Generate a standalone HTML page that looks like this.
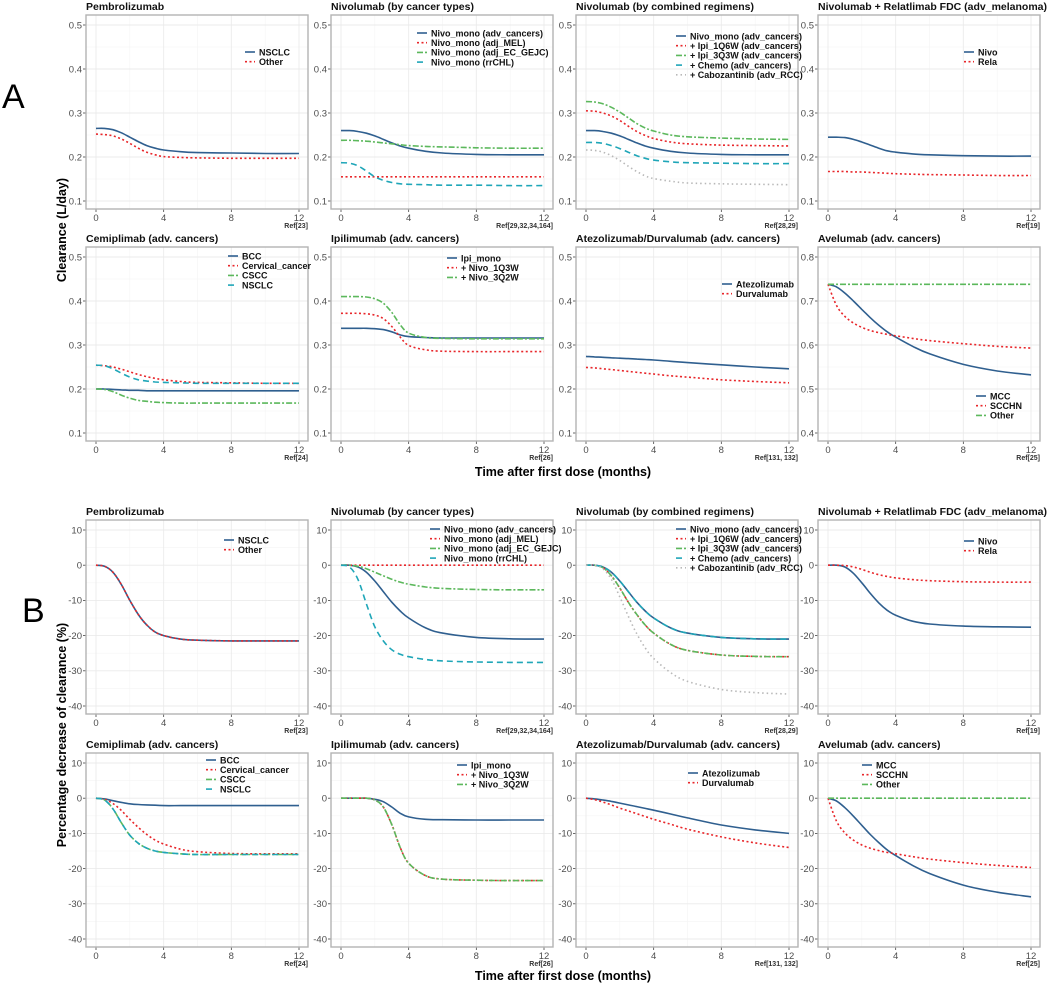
<!DOCTYPE html>
<html><head><meta charset="utf-8"><style>
html,body{margin:0;padding:0;background:#fff;}
svg{display:block;font-family:"Liberation Sans",Arial,sans-serif;}
</style></head><body>
<svg id="fig" width="1050" height="984" viewBox="0 0 1050 984">
<text x="2" y="108" font-size="34" fill="#000">A</text>
<text x="22" y="622" font-size="34" fill="#000">B</text>
<text transform="translate(66,230) rotate(-90)" text-anchor="middle" font-size="12.5" font-weight="bold">Clearance (L/day)</text>
<text transform="translate(66,735) rotate(-90)" text-anchor="middle" font-size="12.5" font-weight="bold">Percentage decrease of clearance (%)</text>
<text x="563" y="476" text-anchor="middle" font-size="12.5" font-weight="bold">Time after first dose (months)</text>
<text x="563" y="980" text-anchor="middle" font-size="12.5" font-weight="bold">Time after first dose (months)</text>
</svg>
<script>
const months=[0,0.5,1,1.5,2,2.5,3,3.5,4,5,6,8,10,12];
const xTicks=[0,4,8,12];
const yTicksA=[0.1,0.2,0.3,0.4,0.5];
const yTicksA8=[0.4,0.5,0.6,0.7,0.8];
const yTicksB=[-40,-30,-20,-10,0,10];

// Panel A series
const a1Nsclc=[0.265,0.265,0.262,0.255,0.245,0.235,0.226,0.220,0.216,0.212,0.210,0.209,0.208,0.208];
const a1Other=[0.252,0.251,0.248,0.241,0.231,0.220,0.211,0.205,0.201,0.199,0.198,0.197,0.197,0.197];
const a2Adv=[0.260,0.260,0.258,0.254,0.248,0.240,0.232,0.225,0.220,0.213,0.209,0.206,0.205,0.205];
const a2Mel=[0.155,0.155,0.155,0.155,0.155,0.155,0.155,0.155,0.155,0.155,0.155,0.155,0.155,0.155];
const a2Ec=[0.238,0.238,0.237,0.236,0.234,0.232,0.230,0.228,0.226,0.224,0.223,0.221,0.220,0.220];
const a2Chl=[0.187,0.186,0.180,0.168,0.155,0.147,0.142,0.139,0.138,0.137,0.136,0.136,0.135,0.135];
const a3Mono=[0.260,0.260,0.258,0.254,0.248,0.240,0.232,0.225,0.220,0.213,0.209,0.206,0.205,0.205];
const a3Ipi1=[0.305,0.304,0.300,0.293,0.283,0.270,0.258,0.249,0.242,0.234,0.230,0.227,0.226,0.225];
const a3Ipi3=[0.326,0.325,0.321,0.313,0.302,0.289,0.276,0.266,0.259,0.250,0.246,0.243,0.241,0.240];
const a3Chemo=[0.233,0.233,0.231,0.226,0.219,0.211,0.203,0.197,0.193,0.189,0.187,0.186,0.185,0.185];
const a3Cabo=[0.216,0.215,0.211,0.203,0.192,0.179,0.167,0.157,0.151,0.145,0.141,0.139,0.138,0.137];
const a4Nivo=[0.245,0.245,0.244,0.240,0.234,0.227,0.220,0.214,0.211,0.207,0.205,0.203,0.202,0.202];
const a4Rela=[0.167,0.167,0.167,0.166,0.166,0.165,0.164,0.163,0.162,0.161,0.160,0.159,0.158,0.158];
const a5Bcc=[0.200,0.200,0.199,0.198,0.197,0.197,0.196,0.196,0.196,0.196,0.196,0.196,0.196,0.196];
const a5Cerv=[0.254,0.253,0.250,0.245,0.239,0.233,0.228,0.224,0.221,0.217,0.215,0.214,0.213,0.213];
const a5Cscc=[0.200,0.199,0.194,0.186,0.179,0.174,0.172,0.170,0.169,0.168,0.168,0.168,0.168,0.168];
const a5Nsclc=[0.254,0.253,0.246,0.236,0.227,0.221,0.218,0.216,0.215,0.214,0.213,0.213,0.213,0.213];
const a6Ipi=[0.338,0.338,0.338,0.338,0.337,0.335,0.330,0.323,0.319,0.317,0.316,0.316,0.316,0.316];
const a6N1=[0.372,0.372,0.372,0.371,0.368,0.360,0.342,0.318,0.299,0.289,0.286,0.285,0.285,0.285];
const a6N3=[0.410,0.410,0.410,0.409,0.405,0.395,0.374,0.346,0.327,0.317,0.315,0.314,0.314,0.314];
const a7Atezo=[0.274,0.273,0.272,0.271,0.270,0.269,0.268,0.267,0.266,0.263,0.260,0.255,0.250,0.246];
const a7Durva=[0.249,0.248,0.246,0.244,0.242,0.240,0.238,0.236,0.234,0.230,0.227,0.221,0.217,0.214];
const a8Mcc=[0.738,0.732,0.718,0.700,0.681,0.662,0.645,0.630,0.618,0.597,0.580,0.556,0.541,0.532];
const a8Scchn=[0.738,0.690,0.665,0.650,0.640,0.633,0.628,0.624,0.621,0.615,0.610,0.603,0.597,0.593];
const a8Other=[0.738,0.738,0.738,0.738,0.738,0.738,0.738,0.738,0.738,0.738,0.738,0.738,0.738,0.738];

// Panel B series
const b1Nsclc=[0,-0.3,-2,-5.5,-10,-14,-17,-19,-20,-21,-21.3,-21.5,-21.5,-21.5];
const b1Other=[0,-0.3,-2,-5.5,-10,-14,-17,-19,-20,-21,-21.3,-21.5,-21.5,-21.5];
const b2Adv=[0,0,-0.5,-2,-4.5,-7.5,-10.5,-13,-15,-17.8,-19.3,-20.5,-20.9,-21];
const b2Mel=[0,0,0,0,0,0,0,0,0,0,0,0,0,0];
const b2Ec=[0,0,-0.3,-1,-2,-3,-4,-4.8,-5.4,-6.2,-6.6,-6.9,-7,-7];
const b2Chl=[0,-0.5,-4,-11,-17.5,-21.5,-24,-25.3,-26,-26.8,-27.2,-27.5,-27.6,-27.6];
const b3Mono=[0,0,-0.5,-2,-4.5,-7.5,-10.5,-13,-15,-17.8,-19.3,-20.5,-20.9,-21];
const b3Ipi1=[0,0,-0.7,-3,-6.5,-10.5,-14,-17,-19.3,-22.5,-24.2,-25.5,-25.9,-26];
const b3Ipi3=[0,0,-0.7,-3,-6.5,-10.5,-14,-17,-19.3,-22.5,-24.2,-25.5,-25.9,-26];
const b3Chemo=[0,0,-0.5,-2,-4.5,-7.5,-10.5,-13,-15,-17.8,-19.3,-20.5,-20.9,-21];
const b3Cabo=[0,0,-1,-4,-9,-14.5,-19.5,-23.5,-26.5,-30.5,-33,-35.3,-36.2,-36.6];
const b4Nivo=[0,0,-0.5,-2.3,-5,-8,-10.7,-12.8,-14.2,-15.9,-16.7,-17.3,-17.5,-17.6];
const b4Rela=[0,0,-0.1,-0.5,-1.2,-2,-2.7,-3.2,-3.6,-4.1,-4.4,-4.7,-4.8,-4.8];
const b5Bcc=[0,-0.2,-0.7,-1.2,-1.6,-1.8,-1.9,-2,-2.1,-2.1,-2.1,-2.1,-2.1,-2.1];
const b5Cerv=[0,-0.3,-1.5,-3.5,-6,-8.3,-10.3,-11.9,-13,-14.5,-15.2,-15.7,-15.8,-15.8];
const b5Cscc=[0,-0.5,-3,-7,-10.5,-12.8,-14.2,-15,-15.4,-15.8,-16,-16,-16,-16];
const b5Nsclc=[0,-0.5,-3,-7,-10.5,-12.8,-14.2,-15,-15.4,-15.8,-16,-16,-16,-16];
const b6Ipi=[0,0,0,0,-0.3,-1,-2.5,-4.3,-5.3,-6,-6.1,-6.2,-6.2,-6.2];
const b6N1=[0,0,0,0,-0.5,-2.5,-7.5,-14,-18.5,-22,-23,-23.3,-23.4,-23.4];
const b6N3=[0,0,0,0,-0.5,-2.5,-7.5,-14,-18.5,-22,-23,-23.3,-23.4,-23.4];
const b7Atezo=[0,-0.2,-0.5,-0.9,-1.4,-1.9,-2.4,-2.9,-3.4,-4.5,-5.6,-7.6,-9,-10];
const b7Durva=[0,-0.4,-1.1,-1.9,-2.8,-3.6,-4.4,-5.2,-6,-7.4,-8.8,-11,-12.7,-14];
const b8Mcc=[0,-0.8,-2.7,-5.1,-7.7,-10.3,-12.6,-14.7,-16.3,-19.1,-21.4,-24.7,-26.7,-28];
const b8Scchn=[0,-6.5,-9.9,-11.9,-13.3,-14.2,-14.9,-15.4,-15.8,-16.6,-17.3,-18.3,-19.1,-19.7];
const b8Other=[0,0,0,0,0,0,0,0,0,0,0,0,0,0];

const ST={
 blue:{c:"#2f5f8f",d:""},
 red:{c:"#e8262a",d:"2,2.5"},
 green:{c:"#5cb85c",d:"6,2,2,2"},
 cyan:{c:"#1fa6b8",d:"6,4"},
 grey:{c:"#b8b8b8",d:"1.5,3"}
};
const NS="http://www.w3.org/2000/svg";
const svg=document.getElementById('fig');
const colL=[86,331,576,818], W=222, H=194;
const rowT=[15,247,520,753];

function mk(tag,attrs,parent){const e=document.createElementNS(NS,tag);for(const k in attrs)e.setAttribute(k,attrs[k]);(parent||svg).appendChild(e);return e;}

const panels=[
 {r:0,c:0,t:"Pembrolizumab",ref:"Ref[23]",yt:yTicksA,s:[["NSCLC",a1Nsclc,"blue"],["Other",a1Other,"red"]],lx:159,ly:37},
 {r:0,c:1,t:"Nivolumab (by cancer types)",ref:"Ref[29,32,34,164]",yt:yTicksA,s:[["Nivo_mono (adv_cancers)",a2Adv,"blue"],["Nivo_mono (adj_MEL)",a2Mel,"red"],["Nivo_mono (adj_EC_GEJC)",a2Ec,"green"],["Nivo_mono (rrCHL)",a2Chl,"cyan"]],lx:86,ly:18},
 {r:0,c:2,t:"Nivolumab (by combined regimens)",ref:"Ref[28,29]",yt:yTicksA,s:[["Nivo_mono (adv_cancers)",a3Mono,"blue"],["+ Ipi_1Q6W (adv_cancers)",a3Ipi1,"red"],["+ Ipi_3Q3W (adv_cancers)",a3Ipi3,"green"],["+ Chemo (adv_cancers)",a3Chemo,"cyan"],["+ Cabozantinib (adv_RCC)",a3Cabo,"grey"]],lx:100,ly:21},
 {r:0,c:3,t:"Nivolumab + Relatlimab FDC (adv_melanoma)",ref:"Ref[19]",yt:yTicksA,s:[["Nivo",a4Nivo,"blue"],["Rela",a4Rela,"red"]],lx:146,ly:37},
 {r:1,c:0,t:"Cemiplimab (adv. cancers)",ref:"Ref[24]",yt:yTicksA,s:[["BCC",a5Bcc,"blue"],["Cervical_cancer",a5Cerv,"red"],["CSCC",a5Cscc,"green"],["NSCLC",a5Nsclc,"cyan"]],lx:142,ly:9},
 {r:1,c:1,t:"Ipilimumab (adv. cancers)",ref:"Ref[26]",yt:yTicksA,s:[["Ipi_mono",a6Ipi,"blue"],["+ Nivo_1Q3W",a6N1,"red"],["+ Nivo_3Q2W",a6N3,"green"]],lx:116,ly:11},
 {r:1,c:2,t:"Atezolizumab/Durvalumab (adv. cancers)",ref:"Ref[131, 132]",yt:yTicksA,s:[["Atezolizumab",a7Atezo,"blue"],["Durvalumab",a7Durva,"red"]],lx:146,ly:37},
 {r:1,c:3,t:"Avelumab (adv. cancers)",ref:"Ref[25]",yt:yTicksA8,s:[["MCC",a8Mcc,"blue"],["SCCHN",a8Scchn,"red"],["Other",a8Other,"green"]],lx:158,ly:149},
 {r:2,c:0,t:"Pembrolizumab",ref:"Ref[23]",yt:yTicksB,s:[["NSCLC",b1Nsclc,"blue"],["Other",b1Other,"red"]],lx:138,ly:20},
 {r:2,c:1,t:"Nivolumab (by cancer types)",ref:"Ref[29,32,34,164]",yt:yTicksB,s:[["Nivo_mono (adv_cancers)",b2Adv,"blue"],["Nivo_mono (adj_MEL)",b2Mel,"red"],["Nivo_mono (adj_EC_GEJC)",b2Ec,"green"],["Nivo_mono (rrCHL)",b2Chl,"cyan"]],lx:99,ly:9},
 {r:2,c:2,t:"Nivolumab (by combined regimens)",ref:"Ref[28,29]",yt:yTicksB,s:[["Nivo_mono (adv_cancers)",b3Mono,"blue"],["+ Ipi_1Q6W (adv_cancers)",b3Ipi1,"red"],["+ Ipi_3Q3W (adv_cancers)",b3Ipi3,"green"],["+ Chemo (adv_cancers)",b3Chemo,"cyan"],["+ Cabozantinib (adv_RCC)",b3Cabo,"grey"]],lx:100,ly:9},
 {r:2,c:3,t:"Nivolumab + Relatlimab FDC (adv_melanoma)",ref:"Ref[19]",yt:yTicksB,s:[["Nivo",b4Nivo,"blue"],["Rela",b4Rela,"red"]],lx:146,ly:21},
 {r:3,c:0,t:"Cemiplimab (adv. cancers)",ref:"Ref[24]",yt:yTicksB,s:[["BCC",b5Bcc,"blue"],["Cervical_cancer",b5Cerv,"red"],["CSCC",b5Cscc,"green"],["NSCLC",b5Nsclc,"cyan"]],lx:120,ly:7},
 {r:3,c:1,t:"Ipilimumab (adv. cancers)",ref:"Ref[26]",yt:yTicksB,s:[["Ipi_mono",b6Ipi,"blue"],["+ Nivo_1Q3W",b6N1,"red"],["+ Nivo_3Q2W",b6N3,"green"]],lx:126,ly:12},
 {r:3,c:2,t:"Atezolizumab/Durvalumab (adv. cancers)",ref:"Ref[131, 132]",yt:yTicksB,s:[["Atezolizumab",b7Atezo,"blue"],["Durvalumab",b7Durva,"red"]],lx:112,ly:20},
 {r:3,c:3,t:"Avelumab (adv. cancers)",ref:"Ref[25]",yt:yTicksB,s:[["MCC",b8Mcc,"blue"],["SCCHN",b8Scchn,"red"],["Other",b8Other,"green"]],lx:44,ly:12}
];

function smooth(pts){
  let d="M"+pts[0][0].toFixed(1)+","+pts[0][1].toFixed(1);
  for(let i=0;i<pts.length-1;i++){
    const p0=pts[i-1]||pts[i],p1=pts[i],p2=pts[i+1],p3=pts[i+2]||p2;
    const t=6;
    const c1=[p1[0]+(p2[0]-p0[0])/t,p1[1]+(p2[1]-p0[1])/t];
    const c2=[p2[0]-(p3[0]-p1[0])/t,p2[1]-(p3[1]-p1[1])/t];
    d+="C"+c1[0].toFixed(1)+","+c1[1].toFixed(1)+" "+c2[0].toFixed(1)+","+c2[1].toFixed(1)+" "+p2[0].toFixed(1)+","+p2[1].toFixed(1);
  }
  return d;
}

panels.forEach((p,pi)=>{
  const L=colL[p.c],T=rowT[p.r];
  const g=mk('g',{});
  
  
  const yt=p.yt, ymin=yt[0], ymax=yt[yt.length-1];
  const xs=v=>L+10+(v/12)*203;
  const ys=v=>T+10+(ymax-v)/(ymax-ymin)*176;
  const t=mk('text',{x:L,y:T-5,"font-size":"10.5","font-weight":"bold",fill:"#111"},g);t.textContent=p.t;
  
  
  mk('rect',{x:L,y:T,width:W,height:H,fill:"#fff"},g);
  for(let m=2;m<12;m+=4){mk('line',{x1:xs(m),x2:xs(m),y1:T,y2:T+H,stroke:"#f4f4f4","stroke-width":"0.6"},g);}
  const step=yt[1]-yt[0];
  for(let i=0;i<yt.length-1;i++){const v=yt[i]+step/2;mk('line',{x1:L,x2:L+W,y1:ys(v),y2:ys(v),stroke:"#f4f4f4","stroke-width":"0.6"},g);}
  xTicks.forEach(v=>{
    mk('line',{x1:xs(v),x2:xs(v),y1:T,y2:T+H,stroke:"#ebebeb","stroke-width":"0.9"},g);
    mk('line',{x1:xs(v),x2:xs(v),y1:T+H,y2:T+H+3,stroke:"#444","stroke-width":"0.8"},g);
    const tx=mk('text',{x:xs(v),y:T+H+12,"text-anchor":"middle","font-size":"9.5",fill:"#4d4d4d"},g);tx.textContent=v;
    
    
  });
  yt.forEach(v=>{
    mk('line',{x1:L,x2:L+W,y1:ys(v),y2:ys(v),stroke:"#ebebeb","stroke-width":"0.9"},g);
    mk('line',{x1:L-3,x2:L,y1:ys(v),y2:ys(v),stroke:"#444","stroke-width":"0.8"},g);
    const ty=mk('text',{x:L-4,y:ys(v)+3.3,"text-anchor":"end","font-size":"9.5",fill:"#4d4d4d"},g);ty.textContent=v;
    
    
  });
  p.s.forEach(s=>{
    const st=ST[s[2]];
    const pts=months.map((m,i)=>[xs(m),ys(s[1][i])]);
    const path=mk('path',{d:smooth(pts),fill:"none",stroke:st.c,"stroke-width":"1.6","stroke-dasharray":st.d},g);
    
    
  });
  mk('rect',{x:L,y:T,width:W,height:H,fill:"none",stroke:"#b3b3b3","stroke-width":"1.4"},g);
  const lg=mk('g',{},g);
  
  
  p.s.forEach((s,i)=>{
    const st=ST[s[2]];
    const y=T+p.ly+i*9.7;
    mk('line',{x1:L+p.lx,x2:L+p.lx+10,y1:y,y2:y,stroke:st.c,"stroke-width":"1.6","stroke-dasharray":st.d},lg);
    const lt=mk('text',{x:L+p.lx+14,y:y+3.3,"font-size":"9","font-weight":"bold",fill:"#111"},lg);lt.textContent=s[0];
    
    
  });
  const rf=mk('text',{x:L+W,y:T+H+19,"text-anchor":"end","font-size":"7","font-weight":"bold",fill:"#333"},g);rf.textContent=p.ref;
  
  
});
</script>
</body></html>
